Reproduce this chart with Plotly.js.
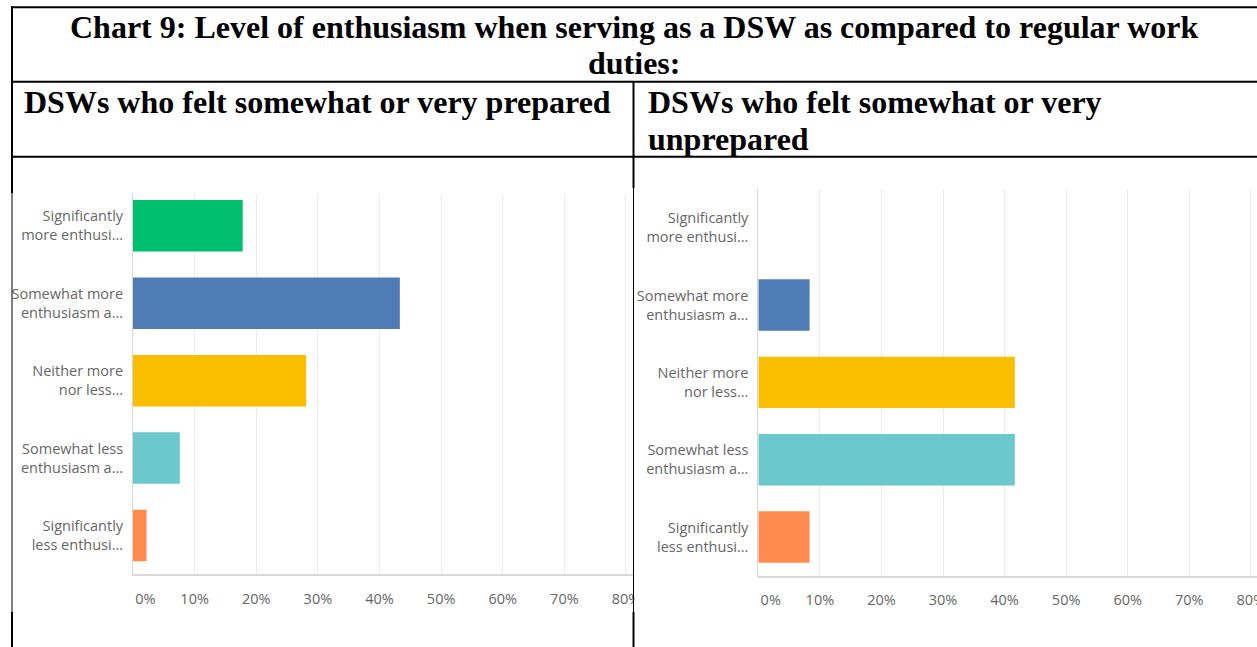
<!DOCTYPE html>
<html>
<head>
<meta charset="utf-8">
<script src="https://cdn.plot.ly/plotly-3.0.1.min.js"></script>
<style>html,body{margin:0;padding:0;background:#fff;}#chart{width:1257px;height:647px;}</style>
</head>
<body>
<div id="chart"></div>
<script>
// ---- data ----
const categories = [
  "Significantly<br>more enthusi...",
  "Somewhat more<br>enthusiasm a...",
  "Neither more<br>nor less...",
  "Somewhat less<br>enthusiasm a...",
  "Significantly<br>less enthusi..."
];
const preparedPct = [17.8, 43.3, 28.1, 7.6, 2.2];
const unpreparedPct = [0, 8.33, 41.67, 41.67, 8.33];
const tickValues = [0, 10, 20, 30, 40, 50, 60, 70, 80];
const tickLabels = ["0%", "10%", "20%", "30%", "40%", "50%", "60%", "70%", "80%"];
const chartTitleLines = ["Chart 9: Level of enthusiasm when serving as a DSW as compared to regular work", "duties:"];
const leftHeader = ["DSWs who felt somewhat or very prepared"];
const rightHeader = ["DSWs who felt somewhat or very", "unprepared"];

// ---- style ----
const barColors = ["#00BF6F", "#507CB6", "#F9BE00", "#6BC8CD", "#FF8B4F"];
const W = 1257, H = 647;
const px = x => x / W;
const py = y => 1 - y / H;
const xTickFont = {family: "Open Sans, sans-serif", size: 14.5, color: "#666666"};
const yTickFont = {family: "Open Sans, sans-serif", size: 14.5, color: "#666666"};
const serifBold = {family: "Liberation Serif, Times New Roman, serif", size: 32, color: "#000"};
// first tick label sits left-aligned on the axis, like the original
const shownTicks = tickLabels.map((t, i) => i === 0 ? "\u2007\u2007\u2007" + t : t);

function bar(x, xa, ya) {
  return {
    type: "bar", orientation: "h", y: categories, x: x,
    xaxis: xa, yaxis: ya,
    marker: {color: barColors, line: {width: 0}},
    hoverinfo: "x+y", showlegend: false
  };
}

function xAxis(domain, maxv, anchor) {
  return {
    domain: domain, range: [0, maxv], anchor: anchor, fixedrange: true,
    tickmode: "array", tickvals: tickValues, ticktext: shownTicks,
    showgrid: true, gridcolor: "#ebebeb", gridwidth: 1,
    zeroline: false, showline: true, linecolor: "#d9d9d9", linewidth: 2,
    ticks: "", ticklabelstandoff: 10, ticklabeloverflow: "allow", tickfont: xTickFont
  };
}
function yAxis(domain, anchor) {
  return {
    domain: domain, anchor: anchor, type: "category", autorange: "reversed",
    fixedrange: true, showgrid: false, zeroline: false,
    showline: true, linecolor: "#d6d6d6", linewidth: 1,
    ticks: "", ticklabelstandoff: 6, tickfont: yTickFont
  };
}

const ann = [];
chartTitleLines.forEach((t, i) => ann.push({
  text: "<b>" + t + "</b>", xref: "paper", yref: "paper",
  x: px(634), y: py(27 + i * 36), xanchor: "center", yanchor: "middle",
  showarrow: false, font: serifBold
}));
leftHeader.forEach((t, i) => ann.push({
  text: "<b>" + t + "</b>", xref: "paper", yref: "paper",
  x: px(22), y: py(102 + i * 36.6), xanchor: "left", yanchor: "middle",
  showarrow: false, font: serifBold
}));
rightHeader.forEach((t, i) => ann.push({
  text: "<b>" + t + "</b>", xref: "paper", yref: "paper",
  x: px(646), y: py(102 + i * 36.6), xanchor: "left", yanchor: "middle",
  showarrow: false, font: serifBold
}));

function line(x0, y0, x1, y1, w) {
  return {type: "line", xref: "paper", yref: "paper", x0: px(x0), y0: py(y0), x1: px(x1), y1: py(y1),
          line: {color: "#000", width: w}, layer: "above"};
}
function whiteRect(x0, y0, x1, y1) {
  return {type: "rect", xref: "paper", yref: "paper", x0: px(x0), y0: py(y0), x1: px(x1), y1: py(y1),
          fillcolor: "#fff", line: {width: 0}, layer: "above"};
}
const shapes = [
  whiteRect(13, 158, 632.5, 194),
  whiteRect(634.5, 582, 650, 614),
  line(11, 7.3, 1257, 7.3, 2),
  line(11, 81.7, 1257, 81.7, 2),
  line(11, 156.7, 1257, 156.7, 2),
  line(12, 6.3, 12, 193, 2),
  line(12, 193, 12, 612, 1),
  line(12, 612, 12, 647, 2),
  line(633.5, 81.7, 633.5, 188, 2),
  line(633.5, 188, 633.5, 612, 1),
  line(633.5, 612, 633.5, 647, 2)
];

const layout = {
  width: W, height: H, autosize: false,
  margin: {l: 0, r: 0, t: 0, b: 0, pad: 0},
  paper_bgcolor: "#fff", plot_bgcolor: "#fff",
  bargap: 0.335, showlegend: false,
  xaxis: xAxis([px(133), px(634)], 81.3, "y"),
  yaxis: yAxis([py(574.3), py(187)], "x"),
  xaxis2: xAxis([px(758.3), 1], 81.0, "y2"),
  yaxis2: yAxis([py(575.7), py(189)], "x2"),
  annotations: ann,
  shapes: shapes
};

Plotly.newPlot("chart", [bar(preparedPct, "x", "y"), bar(unpreparedPct, "x2", "y2")], layout,
  {displayModeBar: false, staticPlot: false});
</script>
</body>
</html>
